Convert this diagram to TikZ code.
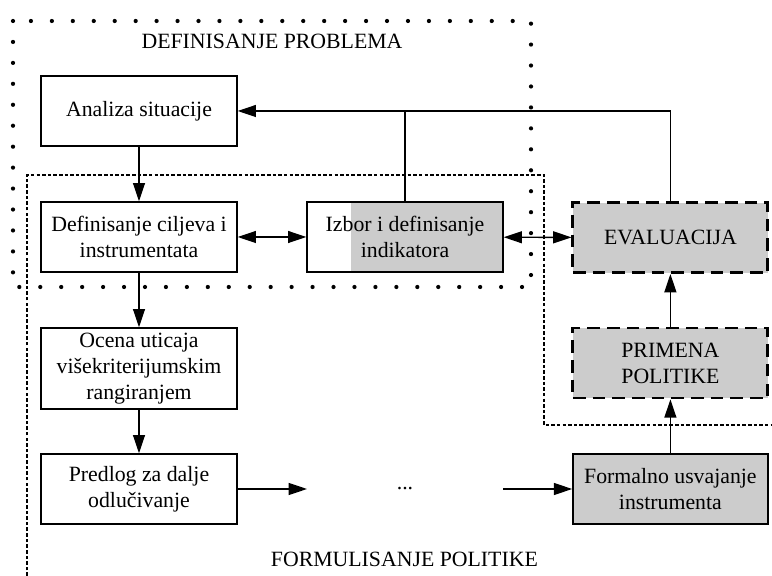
\documentclass[tikz,border=0pt]{standalone}
\usepackage{fontspec}
\setmainfont{Liberation Serif}
\usepackage{xcolor}
\usepackage{tikz}
\usetikzlibrary{arrows.meta,backgrounds}
\definecolor{boxgray}{RGB}{204,204,204}

\begin{document}
\begin{tikzpicture}[>={Triangle[length=13pt,width=8.5pt]},
  every node/.style={font=\fontsize{15.5}{18.5}\selectfont},
  box/.style={draw,line width=1pt,minimum width=4.9cm,minimum height=1.75cm,align=center,inner sep=2pt},
  graybox/.style={box,fill=boxgray},
  dashbox/.style={box,fill=boxgray,line width=2pt,dash pattern=on 9pt off 5pt},
  conn/.style={line width=1pt}]
\useasboundingbox (0,0) rectangle (19.3,14.4);
% faze
\draw[line width=3pt,line cap=round,dash pattern=on 0pt off 14.9pt](0.325,13.875) rectangle (13.275,7.225);
\draw[line width=1.2pt,dash pattern=on 2.5pt off 1.5pt](0.675,0)--(0.675,10.025)--(13.6,10.025)--(13.6,3.775)--(19.3,3.775);
\node[anchor=base] (defprob) at (6.8,13.175) {DEFINISANJE PROBLEMA};
\node[anchor=base] (formpol) at (10.11,0.225) {FORMULISANJE POLITIKE};
% koraci
\node[box] (analiza) at (3.475,11.625) {Analiza situacije};
\node[box] (ciljevi) at (3.475,8.475) {Definisanje ciljeva i\\instrumentata};
\node[box] (izbor) at (10.125,8.475) {Izbor i definisanje\\indikatora};
\node[box,minimum height=2.025cm] (ocena) at (3.475,5.1875) {Ocena uticaja\\višekriterijumskim\\rangiranjem};
\node[box] (predlog) at (3.475,2.175) {Predlog za dalje\\odlučivanje};
\node (tacke) at (10.125,2.175) {...};
\node[graybox,minimum width=4.875cm] (usvajanje) at (16.76,2.175) {Formalno usvajanje\\instrumenta};
\node[dashbox,minimum width=4.875cm] (primena) at (16.76,5.325) {PRIMENA\\POLITIKE};
\node[dashbox,minimum width=4.875cm] (evaluacija) at (16.76,8.46) {EVALUACIJA};
\begin{pgfonlayer}{background}
\fill[boxgray]([xshift=1.125cm]izbor.south west) rectangle (izbor.north east);
\end{pgfonlayer}
\coordinate (t1) at (7.675,2.175);
\coordinate (t2) at (12.575,2.175);
% veze
\draw[conn,->](analiza)--(ciljevi);
\draw[conn,->](ciljevi)--(ocena);
\draw[conn,->](ocena)--(predlog);
\draw[conn,<->](ciljevi)--(izbor);
\draw[conn,<->](izbor)--(evaluacija);
\draw[conn,->](predlog)--(t1);
\draw[conn,->](t2)--(usvajanje);
\draw[conn,->](usvajanje)--(primena);
\draw[conn,->](primena)--(evaluacija);
\draw[conn,->](evaluacija.north)|-(analiza.east);
\draw[conn](izbor.north)--(izbor.north|-analiza.east);
\end{tikzpicture}
\end{document}
